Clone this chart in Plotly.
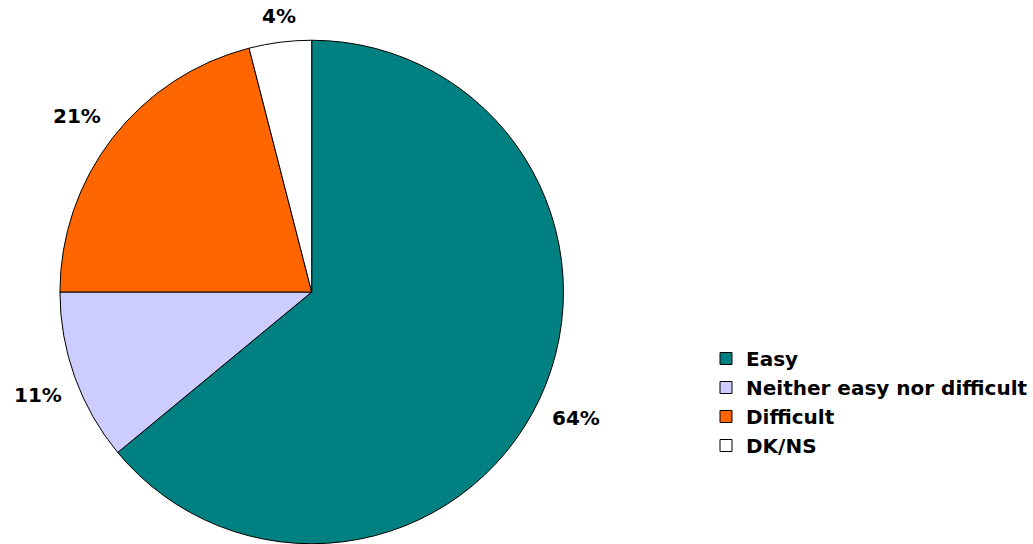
import math
import plotly.graph_objects as go

categories = ["Easy", "Neither easy nor difficult", "Difficult", "DK/NS"]
shares = [64, 11, 21, 4]
slice_colors = ["#008080", "#CCCCFF", "#FF6600", "#FFFFFF"]

W, H = 1033, 544
# pie placement in pixels (from the top-left corner)
cx, top = 312, 40
r_dom = (H - top) / 2
cy = top + r_dom
r_draw = r_dom - 2   # rendered radius is slightly inside the domain box
label_gap = 14

fig = go.Figure(
    go.Pie(
        labels=categories,
        values=shares,
        sort=False,
        direction="clockwise",
        rotation=0,
        marker=dict(colors=slice_colors, line=dict(color="#000000", width=1)),
        textinfo="none",
        hoverinfo="label+percent",
        domain=dict(
            x=[(cx - r_dom) / W, (cx + r_dom) / W],
            y=[0, 1 - top / H],
        ),
    )
)

# percentage labels placed just outside each slice, along its mid-angle
total = sum(shares)
cum = 0
annotations = []
for v in shares:
    mid = (cum + v / 2) / total * 2 * math.pi
    cum += v
    dx, dy = math.sin(mid), -math.cos(mid)
    R = r_draw + label_gap
    px, py = cx + dx * R, cy + dy * R
    xa = "left" if dx > 0.3 else ("right" if dx < -0.3 else "center")
    ya = "bottom" if dy < -0.3 else ("top" if dy > 0.3 else "middle")
    annotations.append(dict(
        x=px / W, y=1 - py / H, xref="paper", yref="paper",
        text=f"{v}%", showarrow=False, xanchor=xa, yanchor=ya,
        font=dict(family="DejaVu Sans", size=20, color="#000000", weight="bold"),
    ))

fig.update_layout(
    width=W,
    height=H,
    margin=dict(l=0, r=0, t=0, b=0),
    paper_bgcolor="#FFFFFF",
    plot_bgcolor="#FFFFFF",
    showlegend=True,
    annotations=annotations,
    legend=dict(
        x=707 / W,
        y=1 - 339 / H,
        xanchor="left",
        yanchor="top",
        font=dict(family="DejaVu Sans", size=20, color="#000000", weight="bold"),
        itemwidth=30,
        bgcolor="rgba(0,0,0,0)",
    ),
    font=dict(family="DejaVu Sans"),
)

fig.write_html("out.html")
